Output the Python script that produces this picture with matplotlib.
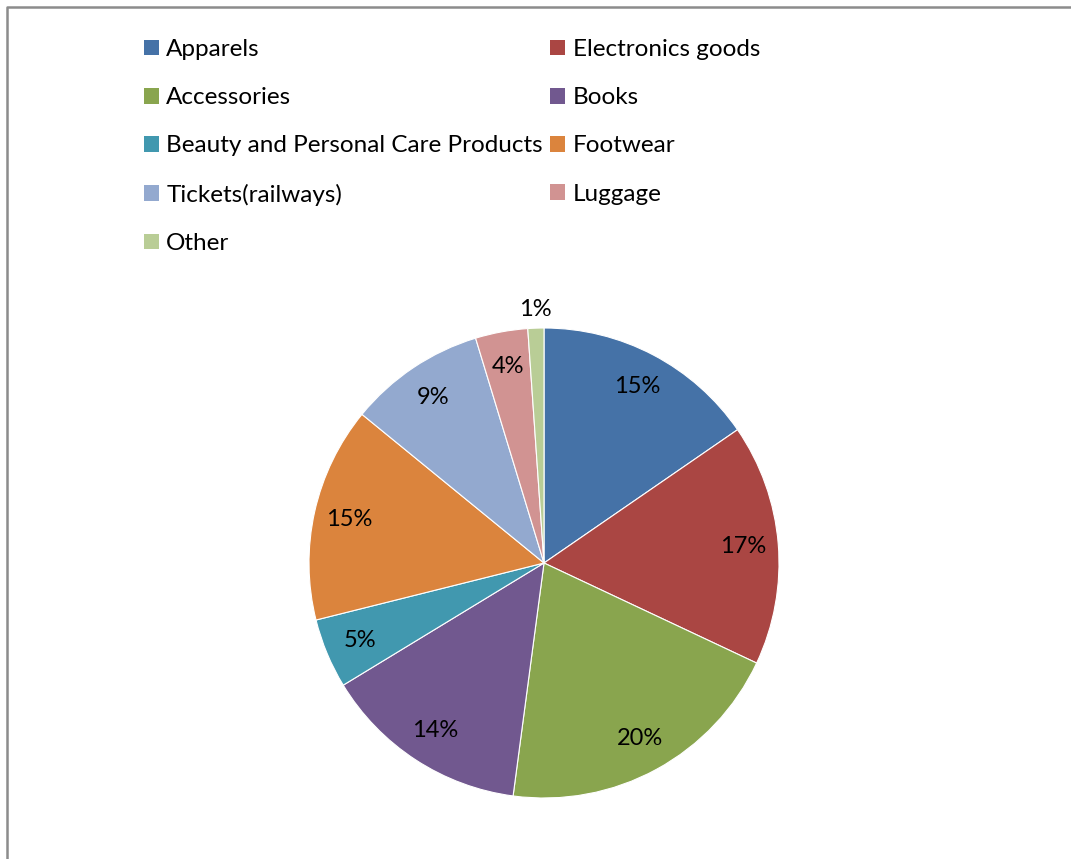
import matplotlib
matplotlib.use("Agg")
import matplotlib.pyplot as plt
from matplotlib.patches import Patch
from matplotlib.lines import Line2D
import numpy as np

categories = ["Apparels", "Electronics goods", "Accessories", "Books",
              "Beauty and Personal Care Products", "Footwear",
              "Tickets(railways)", "Luggage", "Other"]
shares = [15.4, 16.6, 20.1, 14.2, 4.8, 14.8, 9.4, 3.6, 1.1]
colors = ["#4572A7", "#AA4643", "#89A54E", "#71588F", "#4198AF",
          "#DB843D", "#93A9CF", "#D19392", "#B9CD96"]

plt.rcParams['font.family'] = ['Lato', 'DejaVu Sans']

W, H = 1071, 859
fig = plt.figure(figsize=(W / 100, H / 100), dpi=100)

# pie axes: center (544,563) px, radius 235 px
cx, cy, r = 544, 563, 235
ax = fig.add_axes([(cx - r) / W, (H - cy - r) / H, 2 * r / W, 2 * r / H])
wedges, texts, autotexts = ax.pie(
    shares, colors=colors, startangle=90, counterclock=False,
    autopct=lambda p: f"{p:.0f}%", pctdistance=0.85, radius=1,
    wedgeprops=dict(edgecolor="white", linewidth=0.8),
    textprops=dict(fontsize=17, color="black"))
# smallest slice label goes outside
w = wedges[-1]
ang = np.deg2rad((w.theta1 + w.theta2) / 2)
autotexts[-1].set_position((1.08 * np.cos(ang), 1.08 * np.sin(ang)))
ax.set_xlim(-1, 1)
ax.set_ylim(-1, 1)
ax.set_aspect("equal")
ax.axis("off")

# legend, row-major order in two columns
order = [0, 2, 4, 6, 8, 1, 3, 5, 7]
fs = 17.5
handles = [Patch(facecolor=colors[i], edgecolor="none") for i in order]
labels = [categories[i] for i in order]
fig.legend(handles, labels, ncol=2, loc="upper left",
           bbox_to_anchor=(144 / W, 1 - 39 / H), frameon=False,
           fontsize=fs, handlelength=0.62, handleheight=0.62,
           handletextpad=0.3, columnspacing=0.3, labelspacing=1.12,
           borderpad=0, borderaxespad=0)

# outer frame (left and top edges visible)
fig.add_artist(Line2D([7 / W, 7 / W, 1.01], [-0.01, 1 - 7 / H, 1 - 7 / H],
                      transform=fig.transFigure, color="#8c8c8c", linewidth=1.8))

fig.savefig("out.png", dpi=100)
